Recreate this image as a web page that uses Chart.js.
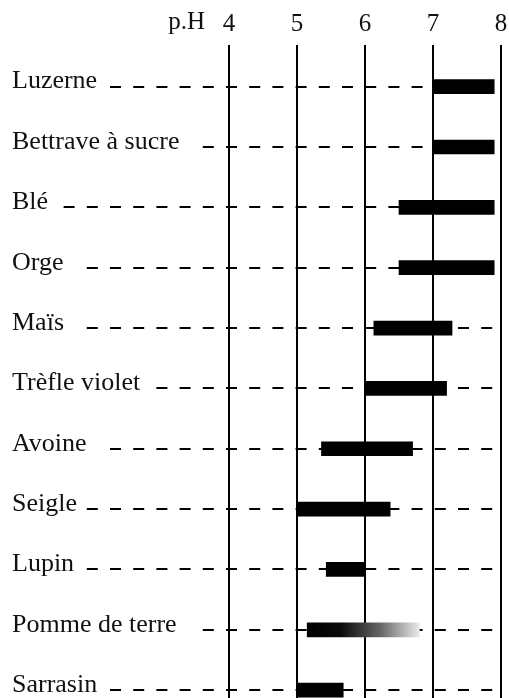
<!DOCTYPE html>
<html>
<head>
<meta charset="utf-8">
<script src="https://cdn.jsdelivr.net/npm/chart.js@4.4.0/dist/chart.umd.min.js"></script>
<style>
  html, body { margin: 0; padding: 0; background: #fff; }
  #wrap { width: 509px; height: 698px; position: relative; }
</style>
</head>
<body>
<div id="wrap"><canvas id="Chart"></canvas></div>
<script>
const crops = [
  "Luzerne", "Bettrave à sucre", "Blé", "Orge", "Maïs", "Trèfle violet",
  "Avoine", "Seigle", "Lupin", "Pomme de terre", "Sarrasin",
];
const phLow = [7.0, 7.0, 6.5, 6.5, 6.13, 6.0, 5.36, 5.0, 5.43, 5.15, 5.0];
const phHigh = [7.9, 7.9, 7.9, 7.9, 7.28, 7.2, 6.7, 6.37, 6.0, 6.8, 5.68];
const phTicks = [4, 5, 6, 7, 8];
const axisTitle = "p.H";
const fadedRow = 9; // pomme de terre, drawn fading out

const FONT = "'Liberation Serif', 'DejaVu Serif', serif";
const LABEL_SIZE = 26;
const TICK_SIZE = 25;

// dashed guide lines from each label to the right edge
const rowLines = {
  id: "rowLines",
  beforeDatasetsDraw(chart) {
    const { ctx, scales } = chart;
    const x = scales.x, y = scales.y;
    const period = 23.2, phase = 17.2;
    ctx.save();
    ctx.font = LABEL_SIZE + "px " + FONT;
    ctx.strokeStyle = "#000";
    ctx.lineWidth = 2;
    ctx.setLineDash([11, period - 11]);
    crops.forEach((c, i) => {
      const yy = Math.round(y.getPixelForValue(i));
      const end = y.left + ctx.measureText(c).width + 6;
      const start = Math.ceil((end - phase) / period) * period + phase;
      ctx.beginPath();
      ctx.moveTo(start, yy);
      ctx.lineTo(x.right, yy);
      ctx.stroke();
    });
    ctx.restore();
  },
  afterDraw(chart) {
    const { ctx, scales } = chart;
    ctx.save();
    ctx.font = TICK_SIZE + "px " + FONT;
    ctx.fillStyle = "#111";
    ctx.textAlign = "right";
    ctx.textBaseline = "middle";
    ctx.fillText(axisTitle, scales.x.getPixelForValue(4) - 24, 22);
    ctx.restore();
  },
};

const barColor = (c) => {
  if (c.dataIndex !== fadedRow) return "#000";
  const chart = c.chart;
  if (!chart.chartArea) return "#000";
  const x = chart.scales.x;
  const g = chart.ctx.createLinearGradient(
    x.getPixelForValue(phLow[fadedRow]), 0,
    x.getPixelForValue(phHigh[fadedRow]), 0
  );
  g.addColorStop(0, "#000");
  g.addColorStop(0.3, "#0a0a0a");
  g.addColorStop(0.65, "#666");
  g.addColorStop(1, "#eaeaea");
  return g;
};

new Chart(document.getElementById("Chart"), {
  type: "bar",
  data: {
    datasets: [{
      data: crops.map((c, i) => ({ x: [phLow[i], phHigh[i]], y: i })),
      backgroundColor: barColor,
      barThickness: 14,
      borderWidth: 0,
    }],
  },
  options: {
    indexAxis: "y",
    responsive: true,
    maintainAspectRatio: false,
    animation: false,
    layout: { padding: { left: 12, right: 8, top: 3, bottom: 0 } },
    plugins: { legend: { display: false }, tooltip: { enabled: false } },
    scales: {
      x: {
        type: "linear",
        position: "top",
        min: 4,
        max: 8,
        afterBuildTicks: (s) => { s.ticks = phTicks.map((v) => ({ value: v })); },
        afterFit: (s) => { s.paddingLeft = 0; s.paddingRight = 0; },
        ticks: {
          color: "#111",
          font: { family: FONT, size: TICK_SIZE },
          padding: 6,
        },
        grid: { color: "#000", lineWidth: 2, drawTicks: false },
        border: { display: false },
      },
      y: {
        type: "linear",
        reverse: true,
        offset: false,
        min: -0.69,
        max: 10.13,
        afterBuildTicks: (s) => { s.ticks = crops.map((c, i) => ({ value: i })); },
        afterFit: (s) => { s.width = 217; s.paddingTop = 0; s.paddingBottom = 0; },
        ticks: {
          crossAlign: "far",
          color: "#111",
          font: { family: FONT, size: LABEL_SIZE },
          labelOffset: -5,
          callback: (v) => crops[v],
        },
        grid: { display: false },
        border: { display: false },
      },
    },
  },
  plugins: [rowLines],
});
</script>
</body>
</html>
